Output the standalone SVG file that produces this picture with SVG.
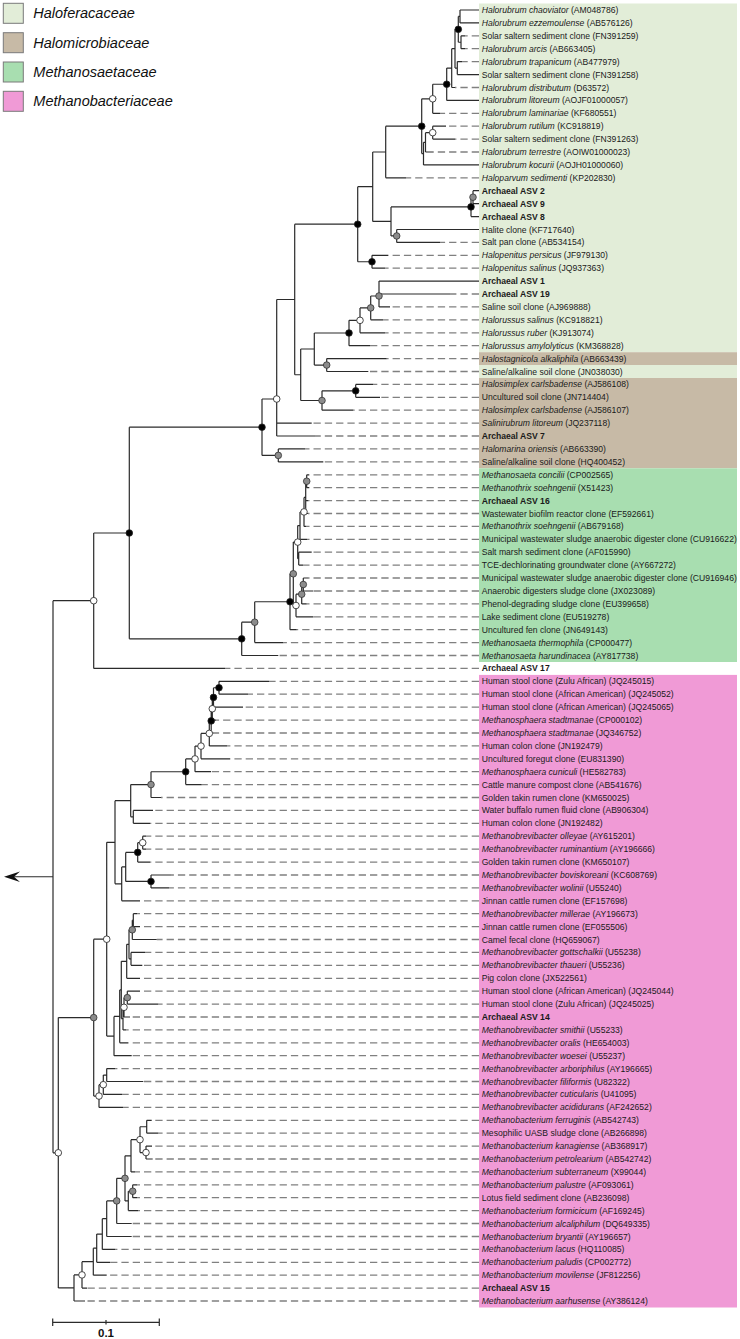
<svg xmlns="http://www.w3.org/2000/svg" width="740" height="1339" viewBox="0 0 740 1339">
<style>
.lb{font-family:"Liberation Sans",Arial,sans-serif;font-size:8.6px;fill:#1a1a1a}
.lg{font-family:"Liberation Sans",Arial,sans-serif;font-size:14.5px;font-style:italic;fill:#111}
.i{font-style:italic}
.b{font-weight:bold}
.br{fill:none;stroke:#2b2b2b;stroke-width:1.2}
.ds{fill:none;stroke:#808080;stroke-width:1.3;stroke-dasharray:7.3 4}
.cb{fill:#000;stroke:#222;stroke-width:0.8}
.cg{fill:#8c8c8c;stroke:#333;stroke-width:0.8}
.co{fill:#fff;stroke:#333;stroke-width:0.9}
.f1{fill:#e2edd8}
.f2{fill:#c7baa6}
.f3{fill:#a8deb0}
.f4{fill:#f09ad6}
</style>
<rect width="740" height="1339" fill="#fff"/>
<g id="bands">
<rect class="f1" x="479" y="3.5" width="258" height="348.7"/>
<rect class="f2" x="479" y="352.2" width="258" height="12.8"/>
<rect class="f1" x="479" y="365" width="258" height="13"/>
<rect class="f2" x="479" y="378" width="258" height="90.3"/>
<rect class="f3" x="479" y="468.3" width="258" height="193.7"/>
<rect class="f4" x="479" y="674.9" width="258" height="632.6"/>
</g>
<g id="legend">
<g id="leg1"><rect class="f1" x="3.3" y="3.3" width="20" height="20" stroke="#7a7a7a" stroke-width="1"/><text class="lg" x="33.3" y="18.3">Haloferacaceae</text></g>
<g id="leg2"><rect class="f2" x="3.3" y="32.7" width="20" height="20" stroke="#7a7a7a" stroke-width="1"/><text class="lg" x="33.3" y="47.7">Halomicrobiaceae</text></g>
<g id="leg3"><rect class="f3" x="3.3" y="62" width="20" height="20" stroke="#7a7a7a" stroke-width="1"/><text class="lg" x="33.3" y="77">Methanosaetaceae</text></g>
<g id="leg4"><rect class="f4" x="3.3" y="91.3" width="20" height="20" stroke="#7a7a7a" stroke-width="1"/><text class="lg" x="33.3" y="106.3">Methanobacteriaceae</text></g>
</g>
<g id="connectors">
<path class="ds" d="M479 35.8H465M479 48.7H465M479 61.6H462M479 87.5H455M479 113.3H440M479 126.2H446M479 139.1H455M479 152H433M479 177.8H406M479 242.4H440M479 255.3H388M479 268.2H385M479 294H450M479 306.9H390M479 319.8H383M479 332.8H385M479 345.7H370M479 358.6H386.7M479 371.5H368.3M479 384.4H373.3M479 397.3H380M479 410.2H353.3M479 423.1H311.7M479 436H315M479 448.9H305M479 461.9H323.3M479 474.8H309M479 487.7H309M479 500.6H308M479 513.5H308M479 526.4H306M479 539.3H307M479 552.2H311.7M479 565.1H303M479 578H308M479 591H313M479 603.9H306.7M479 616.8H313.3M479 629.7H296.7M479 642.6H283.3M479 655.5H278.3M479 668.4H225M479 681.3H269M479 694.2H248M479 707.1H243M479 720.1H216M479 733H214M479 745.9H227M479 758.8H230M479 771.7H211M479 784.6H201.7M479 797.5H161M479 810.4H153M479 823.3H150M479 836.2H146M479 849.2H146M479 862.1H150M479 875H171M479 887.9H169M479 900.8H140M479 913.7H137M479 926.6H140M479 939.5H156.7M479 952.4H145M479 965.3H142.3M479 978.3H140M479 991.2H140M479 1004.1H158.3M479 1017H130M479 1029.9H126M479 1042.8H128M479 1055.7H131.7M479 1068.6H115M479 1081.5H143.3M479 1094.4H122M479 1107.4H123M479 1120.3H151.7M479 1133.2H158.3M479 1146.1H152M479 1159H152.7M479 1171.9H135M479 1184.8H137M479 1197.7H137M479 1210.6H138M479 1223.5H131.7M479 1236.5H131.7M479 1249.4H115M479 1262.3H110M479 1275.2H106.7M479 1288.1H87M479 1301H85"/>
<path class="br" d="M460 10V22.9M460 10H479M460 22.9H479M461 35.8V48.7M461 35.8H465M461 48.7H465M458.3 16.45V42.25M458.3 16.45H460M458.3 42.25H461M457.3 61.6V74.6M457.3 61.6H462M457.3 74.6H479M455 29.35V68.1M455 29.35H458.3M455 68.1H457.3M451.7 48.7V87.5M451.7 48.7H455M451.7 87.5H455M446.7 68.1V100.4M446.7 68.1H451.7M446.7 100.4H479M432.7 84.25V113.3M432.7 84.25H446.7M432.7 113.3H440M432.7 126.2V139.1M432.7 126.2H446M432.7 139.1H455M425.5 132.65V152M425.5 132.65H432.7M425.5 152H433M423.5 142.3V164.9M423.5 142.3H425.5M423.5 164.9H479M421.7 98.8V153.6M421.7 98.8H432.7M421.7 153.6H423.5M385.7 126.2V177.8M385.7 126.2H421.7M385.7 177.8H406M473 190.7V203.7M473 190.7H479M473 203.7H479M471 197.2V216.6M471 197.2H473M471 216.6H479M396.7 229.5V242.4M396.7 229.5H479M396.7 242.4H440M391 206.9V235.95M391 206.9H471M391 235.95H396.7M372.7 152V221.4M372.7 152H385.7M372.7 221.4H391M372 255.3V268.2M372 255.3H388M372 268.2H385M357.7 186.7V261.75M357.7 186.7H372.7M357.7 261.75H372M379 281.1V306.9M379 281.1H479M379 294H450M379 306.9H390M370.7 296V319.8M370.7 296H379M370.7 319.8H383M360 307.9V332.8M360 307.9H370.7M360 332.8H385M349 320.35V345.7M349 320.35H360M349 345.7H370M326.7 358.6V371.5M326.7 358.6H386.7M326.7 371.5H368.3M314.3 333V365.05M314.3 333H349M314.3 365.05H326.7M355.7 384.4V397.3M355.7 384.4H373.3M355.7 397.3H380M322 390.85V410.2M322 390.85H355.7M322 410.2H353.3M300.7 349V400.5M300.7 349H314.3M300.7 400.5H322M294.7 224.2V374.75M294.7 224.2H357.7M294.7 374.75H300.7M276.7 299.5V436M276.7 299.5H294.7M276.7 423.1H311.7M276.7 436H315M278.3 448.9V461.9M278.3 448.9H305M278.3 461.9H323.3M262 399V455.4M262 399H276.7M262 455.4H278.3"/>
<path class="br" d="M306.7 474.8V487.7M306.7 474.8H309M306.7 487.7H309M305.7 481.25V513.5M305.7 481.25H306.7M305.7 500.6H308M305.7 513.5H308M304 497.4V526.4M304 497.4H305.7M304 526.4H306M300 511.9V539.3M300 511.9H304M300 539.3H307M298.7 552.2V565.1M298.7 552.2H311.7M298.7 565.1H303M297.7 525.6V558.65M297.7 525.6H300M297.7 558.65H298.7M303.3 578V591M303.3 578H308M303.3 591H313M301.7 584.5V603.9M301.7 584.5H303.3M301.7 603.9H306.7M296 594.2V616.8M296 594.2H301.7M296 616.8H313.3M293.3 542.1V605.5M293.3 542.1H297.7M293.3 605.5H296M290 573.8V629.7M290 573.8H293.3M290 629.7H296.7M254.7 601.75V642.6M254.7 601.75H290M254.7 642.6H283.3M241.7 622.2V655.5M241.7 622.2H254.7M241.7 655.5H278.3M129.3 427.2V638.85M129.3 427.2H262M129.3 638.85H241.7M93.7 533V668.4M93.7 533H129.3M93.7 668.4H225M53 600.7V1152.8M53 600.7H93.7M53 1152.8H58.3"/>
<path class="br" d="M219 681.3V694.2M219 681.3H269M219 694.2H248M213.5 687.75V707.1M213.5 687.75H219M213.5 707.1H243M212.3 697.4V720.1M212.3 697.4H213.5M212.3 720.1H216M211.2 708.75V733M211.2 708.75H212.3M211.2 733H214M209.3 720.9V745.9M209.3 720.9H211.2M209.3 745.9H227M201 733.4V758.8M201 733.4H209.3M201 758.8H230M195 746.1V771.7M195 746.1H201M195 771.7H211M185.7 758.9V784.6M185.7 758.9H195M185.7 784.6H201.7M151 771.75V797.5M151 771.75H185.7M151 797.5H161M133.3 810.4V823.3M133.3 810.4H153M133.3 823.3H150M130.7 784.6V816.85M130.7 784.6H151M130.7 816.85H133.3M142.7 836.2V849.2M142.7 836.2H146M142.7 849.2H146M137.7 842.7V862.1M137.7 842.7H142.7M137.7 862.1H150M151 875V887.9M151 875H171M151 887.9H169M125.7 852.4V881.45M125.7 852.4H137.7M125.7 881.45H151M121.7 866.9V900.8M121.7 866.9H125.7M121.7 900.8H140M115 800.7V883.85M115 800.7H130.7M115 883.85H121.7M133.3 913.7V926.6M133.3 913.7H137M133.3 926.6H140M132.3 920.15V939.5M132.3 920.15H133.3M132.3 939.5H156.7M131 952.4V965.3M131 952.4H145M131 965.3H142.3M129 929.8V958.85M129 929.8H132.3M129 958.85H131M126.7 944.3V978.3M126.7 944.3H129M126.7 978.3H140M127.3 991.2V1004.1M127.3 991.2H140M127.3 1004.1H158.3M124 997.65V1017M124 997.65H127.3M124 1017H130M123 1007.3V1029.9M123 1007.3H124M123 1029.9H126M121.3 961.3V1018.6M121.3 961.3H126.7M121.3 1018.6H123M119.7 989.95V1042.8M119.7 989.95H121.3M119.7 1042.8H128M114 1016.4V1055.7M114 1016.4H119.7M114 1055.7H131.7M106.7 842.3V1036.05M106.7 842.3H115M106.7 1036.05H114M106.7 1068.6V1081.5M106.7 1068.6H115M106.7 1081.5H143.3M103.3 1075.05V1094.4M103.3 1075.05H106.7M103.3 1094.4H122M99 1084.7V1107.4M99 1084.7H103.3M99 1107.4H123M93.7 939.2V1096.05M93.7 939.2H106.7M93.7 1096.05H99M146.7 1120.3V1133.2M146.7 1120.3H151.7M146.7 1133.2H158.3M146 1146.1V1159M146 1146.1H152M146 1159H152.7M140 1126.75V1152.55M140 1126.75H146.7M140 1152.55H146M131 1139.65V1171.9M131 1139.65H140M131 1171.9H135M132.7 1184.8V1197.7M132.7 1184.8H137M132.7 1197.7H137M128.3 1191.25V1210.6M128.3 1191.25H132.7M128.3 1210.6H138M125 1155.8V1200.9M125 1155.8H131M125 1200.9H128.3M116.7 1178.35V1223.5M116.7 1178.35H125M116.7 1223.5H131.7M106.7 1200.9V1236.5M106.7 1200.9H116.7M106.7 1236.5H131.7M102.3 1218.7V1249.4M102.3 1218.7H106.7M102.3 1249.4H115M96.7 1234.05V1262.3M96.7 1234.05H102.3M96.7 1262.3H110M93.3 1248.2V1275.2M93.3 1248.2H96.7M93.3 1275.2H106.7M82 1261.7V1288.1M82 1261.7H93.3M82 1288.1H87M74 1274.9V1301M74 1274.9H82M74 1301H85M58.3 1017.6V1287.95M58.3 1017.6H93.7M58.3 1287.95H74"/>
<path class="br" d="M53 876.75H14"/>
<polygon points="4,876.75 20,871.5 14,876.75 20,882" fill="#111"/>
</g>
<g id="support">
<circle class="cb" cx="458.3" cy="29.35" r="3.3"/><circle class="cb" cx="446.7" cy="84.25" r="3.3"/><circle class="cb" cx="421.7" cy="126.2" r="3.3"/><circle class="cb" cx="471" cy="206.9" r="3.3"/><circle class="cb" cx="372" cy="261.75" r="3.3"/><circle class="cb" cx="357.7" cy="224.2" r="3.3"/><circle class="cb" cx="349" cy="333" r="3.3"/><circle class="cb" cx="355.7" cy="390.85" r="3.3"/><circle class="cb" cx="262" cy="427.2" r="3.3"/><circle class="cb" cx="290" cy="601.75" r="3.3"/><circle class="cb" cx="241.7" cy="638.85" r="3.3"/><circle class="cb" cx="129.3" cy="533" r="3.3"/><circle class="cb" cx="219" cy="687.75" r="3.3"/><circle class="cb" cx="213.5" cy="697.4" r="3.3"/><circle class="cb" cx="211.2" cy="720.9" r="3.3"/><circle class="cb" cx="185.7" cy="771.75" r="3.3"/><circle class="cb" cx="137.7" cy="852.4" r="3.3"/><circle class="cb" cx="151" cy="881.45" r="3.3"/>
<circle class="cg" cx="473" cy="197.2" r="3.3"/><circle class="cg" cx="396.7" cy="235.95" r="3.3"/><circle class="cg" cx="379" cy="296" r="3.3"/><circle class="cg" cx="370.7" cy="307.9" r="3.3"/><circle class="cg" cx="326.7" cy="365.05" r="3.3"/><circle class="cg" cx="322" cy="400.5" r="3.3"/><circle class="cg" cx="278.3" cy="455.4" r="3.3"/><circle class="cg" cx="306.7" cy="481.25" r="3.3"/><circle class="cg" cx="303.3" cy="584.5" r="3.3"/><circle class="cg" cx="301.7" cy="594.2" r="3.3"/><circle class="cg" cx="293.3" cy="573.8" r="3.3"/><circle class="cg" cx="254.7" cy="622.2" r="3.3"/><circle class="cg" cx="151" cy="784.6" r="3.3"/><circle class="cg" cx="132.3" cy="929.8" r="3.3"/><circle class="cg" cx="127.3" cy="997.65" r="3.3"/><circle class="cg" cx="93.7" cy="1017.6" r="3.3"/><circle class="cg" cx="132.7" cy="1191.25" r="3.3"/><circle class="cg" cx="125" cy="1178.35" r="3.3"/><circle class="cg" cx="116.7" cy="1200.9" r="3.3"/>
<circle class="co" cx="432.7" cy="98.8" r="3.3"/><circle class="co" cx="432.7" cy="132.65" r="3.3"/><circle class="co" cx="360" cy="320.35" r="3.3"/><circle class="co" cx="276.7" cy="399" r="3.3"/><circle class="co" cx="304" cy="511.9" r="3.3"/><circle class="co" cx="297.7" cy="542.1" r="3.3"/><circle class="co" cx="296" cy="605.5" r="3.3"/><circle class="co" cx="93.7" cy="600.7" r="3.3"/><circle class="co" cx="212.3" cy="708.75" r="3.3"/><circle class="co" cx="209.3" cy="733.4" r="3.3"/><circle class="co" cx="201" cy="746.1" r="3.3"/><circle class="co" cx="195" cy="758.9" r="3.3"/><circle class="co" cx="142.7" cy="842.7" r="3.3"/><circle class="co" cx="106.7" cy="939.2" r="3.3"/><circle class="co" cx="124" cy="1007.3" r="3.3"/><circle class="co" cx="103.3" cy="1084.7" r="3.3"/><circle class="co" cx="99" cy="1096.05" r="3.3"/><circle class="co" cx="146" cy="1152.55" r="3.3"/><circle class="co" cx="140" cy="1139.65" r="3.3"/><circle class="co" cx="82" cy="1274.9" r="3.3"/><circle class="co" cx="58.3" cy="1152.8" r="3.3"/>
</g>
<g id="labels">
<g id="n1"><text class="lb" x="481.7" y="13"><tspan class="i">Halorubrum chaoviator</tspan> (AM048786)</text></g>
<g id="n2"><text class="lb" x="481.7" y="25.9"><tspan class="i">Halorubrum ezzemoulense</tspan> (AB576126)</text></g>
<g id="n3"><text class="lb" x="481.7" y="38.8">Solar saltern sediment clone (FN391259)</text></g>
<g id="n4"><text class="lb" x="481.7" y="51.7"><tspan class="i">Halorubrum arcis</tspan> (AB663405)</text></g>
<g id="n5"><text class="lb" x="481.7" y="64.6"><tspan class="i">Halorubrum trapanicum</tspan> (AB477979)</text></g>
<g id="n6"><text class="lb" x="481.7" y="77.6">Solar saltern sediment clone (FN391258)</text></g>
<g id="n7"><text class="lb" x="481.7" y="90.5"><tspan class="i">Halorubrum distributum</tspan> (D63572)</text></g>
<g id="n8"><text class="lb" x="481.7" y="103.4"><tspan class="i">Halorubrum litoreum</tspan> (AOJF01000057)</text></g>
<g id="n9"><text class="lb" x="481.7" y="116.3"><tspan class="i">Halorubrum laminariae</tspan> (KF680551)</text></g>
<g id="n10"><text class="lb" x="481.7" y="129.2"><tspan class="i">Halorubrum rutilum</tspan> (KC918819)</text></g>
<g id="n11"><text class="lb" x="481.7" y="142.1">Solar saltern sediment clone (FN391263)</text></g>
<g id="n12"><text class="lb" x="481.7" y="155"><tspan class="i">Halorubrum terrestre</tspan> (AOIW01000023)</text></g>
<g id="n13"><text class="lb" x="481.7" y="167.9"><tspan class="i">Halorubrum kocurii</tspan> (AOJH01000060)</text></g>
<g id="n14"><text class="lb" x="481.7" y="180.8"><tspan class="i">Haloparvum sedimenti</tspan> (KP202830)</text></g>
<g id="n15"><text class="lb b" x="481.7" y="193.7">Archaeal ASV 2</text></g>
<g id="n16"><text class="lb b" x="481.7" y="206.7">Archaeal ASV 9</text></g>
<g id="n17"><text class="lb b" x="481.7" y="219.6">Archaeal ASV 8</text></g>
<g id="n18"><text class="lb" x="481.7" y="232.5">Halite clone (KF717640)</text></g>
<g id="n19"><text class="lb" x="481.7" y="245.4">Salt pan clone (AB534154)</text></g>
<g id="n20"><text class="lb" x="481.7" y="258.3"><tspan class="i">Halopenitus persicus</tspan> (JF979130)</text></g>
<g id="n21"><text class="lb" x="481.7" y="271.2"><tspan class="i">Halopenitus salinus</tspan> (JQ937363)</text></g>
<g id="n22"><text class="lb b" x="481.7" y="284.1">Archaeal ASV 1</text></g>
<g id="n23"><text class="lb b" x="481.7" y="297">Archaeal ASV 19</text></g>
<g id="n24"><text class="lb" x="481.7" y="309.9">Saline soil clone (AJ969888)</text></g>
<g id="n25"><text class="lb" x="481.7" y="322.8"><tspan class="i">Halorussus salinus</tspan> (KC918821)</text></g>
<g id="n26"><text class="lb" x="481.7" y="335.8"><tspan class="i">Halorussus ruber</tspan> (KJ913074)</text></g>
<g id="n27"><text class="lb" x="481.7" y="348.7"><tspan class="i">Halorussus amylolyticus</tspan> (KM368828)</text></g>
<g id="n28"><text class="lb" x="481.7" y="361.6"><tspan class="i">Halostagnicola alkaliphila</tspan> (AB663439)</text></g>
<g id="n29"><text class="lb" x="481.7" y="374.5">Saline/alkaline soil clone (JN038030)</text></g>
<g id="n30"><text class="lb" x="481.7" y="387.4"><tspan class="i">Halosimplex carlsbadense</tspan> (AJ586108)</text></g>
<g id="n31"><text class="lb" x="481.7" y="400.3">Uncultured soil clone (JN714404)</text></g>
<g id="n32"><text class="lb" x="481.7" y="413.2"><tspan class="i">Halosimplex carlsbadense</tspan> (AJ586107)</text></g>
<g id="n33"><text class="lb" x="481.7" y="426.1"><tspan class="i">Salinirubrum litoreum</tspan> (JQ237118)</text></g>
<g id="n34"><text class="lb b" x="481.7" y="439">Archaeal ASV 7</text></g>
<g id="n35"><text class="lb" x="481.7" y="451.9"><tspan class="i">Halomarina oriensis</tspan> (AB663390)</text></g>
<g id="n36"><text class="lb" x="481.7" y="464.9">Saline/alkaline soil clone (HQ400452)</text></g>
<g id="n37"><text class="lb" x="481.7" y="477.8"><tspan class="i">Methanosaeta concilii</tspan> (CP002565)</text></g>
<g id="n38"><text class="lb" x="481.7" y="490.7"><tspan class="i">Methanothrix soehngenii</tspan> (X51423)</text></g>
<g id="n39"><text class="lb b" x="481.7" y="503.6">Archaeal ASV 16</text></g>
<g id="n40"><text class="lb" x="481.7" y="516.5">Wastewater biofilm reactor clone (EF592661)</text></g>
<g id="n41"><text class="lb" x="481.7" y="529.4"><tspan class="i">Methanothrix soehngenii</tspan> (AB679168)</text></g>
<g id="n42"><text class="lb" x="481.7" y="542.3">Municipal wastewater sludge anaerobic digester clone (CU916622)</text></g>
<g id="n43"><text class="lb" x="481.7" y="555.2">Salt marsh sediment clone (AF015990)</text></g>
<g id="n44"><text class="lb" x="481.7" y="568.1">TCE-dechlorinating groundwater clone (AY667272)</text></g>
<g id="n45"><text class="lb" x="481.7" y="581">Municipal wastewater sludge anaerobic digester clone (CU916946)</text></g>
<g id="n46"><text class="lb" x="481.7" y="594">Anaerobic digesters sludge clone (JX023089)</text></g>
<g id="n47"><text class="lb" x="481.7" y="606.9">Phenol-degrading sludge clone (EU399658)</text></g>
<g id="n48"><text class="lb" x="481.7" y="619.8">Lake sediment clone (EU519278)</text></g>
<g id="n49"><text class="lb" x="481.7" y="632.7">Uncultured fen clone (JN649143)</text></g>
<g id="n50"><text class="lb" x="481.7" y="645.6"><tspan class="i">Methanosaeta thermophila</tspan> (CP000477)</text></g>
<g id="n51"><text class="lb" x="481.7" y="658.5"><tspan class="i">Methanosaeta harundinacea</tspan> (AY817738)</text></g>
<g id="n52"><text class="lb b" x="481.7" y="671.4">Archaeal ASV 17</text></g>
<g id="n53"><text class="lb" x="481.7" y="684.3">Human stool clone (Zulu African) (JQ245015)</text></g>
<g id="n54"><text class="lb" x="481.7" y="697.2">Human stool clone (African American) (JQ245052)</text></g>
<g id="n55"><text class="lb" x="481.7" y="710.1">Human stool clone (African American) (JQ245065)</text></g>
<g id="n56"><text class="lb" x="481.7" y="723.1"><tspan class="i">Methanosphaera stadtmanae</tspan> (CP000102)</text></g>
<g id="n57"><text class="lb" x="481.7" y="736"><tspan class="i">Methanosphaera stadtmanae</tspan> (JQ346752)</text></g>
<g id="n58"><text class="lb" x="481.7" y="748.9">Human colon clone (JN192479)</text></g>
<g id="n59"><text class="lb" x="481.7" y="761.8">Uncultured foregut clone (EU831390)</text></g>
<g id="n60"><text class="lb" x="481.7" y="774.7"><tspan class="i">Methanosphaera cuniculi</tspan> (HE582783)</text></g>
<g id="n61"><text class="lb" x="481.7" y="787.6">Cattle manure compost clone (AB541676)</text></g>
<g id="n62"><text class="lb" x="481.7" y="800.5">Golden takin rumen clone (KM650025)</text></g>
<g id="n63"><text class="lb" x="481.7" y="813.4">Water buffalo rumen fluid clone (AB906304)</text></g>
<g id="n64"><text class="lb" x="481.7" y="826.3">Human colon clone (JN192482)</text></g>
<g id="n65"><text class="lb" x="481.7" y="839.2"><tspan class="i">Methanobrevibacter olleyae</tspan> (AY615201)</text></g>
<g id="n66"><text class="lb" x="481.7" y="852.2"><tspan class="i">Methanobrevibacter ruminantium</tspan> (AY196666)</text></g>
<g id="n67"><text class="lb" x="481.7" y="865.1">Golden takin rumen clone (KM650107)</text></g>
<g id="n68"><text class="lb" x="481.7" y="878"><tspan class="i">Methanobrevibacter boviskoreani</tspan> (KC608769)</text></g>
<g id="n69"><text class="lb" x="481.7" y="890.9"><tspan class="i">Methanobrevibacter wolinii</tspan> (U55240)</text></g>
<g id="n70"><text class="lb" x="481.7" y="903.8">Jinnan cattle rumen clone (EF157698)</text></g>
<g id="n71"><text class="lb" x="481.7" y="916.7"><tspan class="i">Methanobrevibacter millerae</tspan> (AY196673)</text></g>
<g id="n72"><text class="lb" x="481.7" y="929.6">Jinnan cattle rumen clone (EF055506)</text></g>
<g id="n73"><text class="lb" x="481.7" y="942.5">Camel fecal clone (HQ659067)</text></g>
<g id="n74"><text class="lb" x="481.7" y="955.4"><tspan class="i">Methanobrevibacter gottschalkii</tspan> (U55238)</text></g>
<g id="n75"><text class="lb" x="481.7" y="968.3"><tspan class="i">Methanobrevibacter thaueri</tspan> (U55236)</text></g>
<g id="n76"><text class="lb" x="481.7" y="981.3">Pig colon clone (JX522561)</text></g>
<g id="n77"><text class="lb" x="481.7" y="994.2">Human stool clone (African American) (JQ245044)</text></g>
<g id="n78"><text class="lb" x="481.7" y="1007.1">Human stool clone (Zulu African) (JQ245025)</text></g>
<g id="n79"><text class="lb b" x="481.7" y="1020">Archaeal ASV 14</text></g>
<g id="n80"><text class="lb" x="481.7" y="1032.9"><tspan class="i">Methanobrevibacter smithii</tspan> (U55233)</text></g>
<g id="n81"><text class="lb" x="481.7" y="1045.8"><tspan class="i">Methanobrevibacter oralis</tspan> (HE654003)</text></g>
<g id="n82"><text class="lb" x="481.7" y="1058.7"><tspan class="i">Methanobrevibacter woesei</tspan> (U55237)</text></g>
<g id="n83"><text class="lb" x="481.7" y="1071.6"><tspan class="i">Methanobrevibacter arboriphilus</tspan> (AY196665)</text></g>
<g id="n84"><text class="lb" x="481.7" y="1084.5"><tspan class="i">Methanobrevibacter filiformis</tspan> (U82322)</text></g>
<g id="n85"><text class="lb" x="481.7" y="1097.4"><tspan class="i">Methanobrevibacter cuticularis</tspan> (U41095)</text></g>
<g id="n86"><text class="lb" x="481.7" y="1110.4"><tspan class="i">Methanobrevibacter acididurans</tspan> (AF242652)</text></g>
<g id="n87"><text class="lb" x="481.7" y="1123.3"><tspan class="i">Methanobacterium ferruginis</tspan> (AB542743)</text></g>
<g id="n88"><text class="lb" x="481.7" y="1136.2">Mesophilic UASB sludge clone (AB266898)</text></g>
<g id="n89"><text class="lb" x="481.7" y="1149.1"><tspan class="i">Methanobacterium kanagiense</tspan> (AB368917)</text></g>
<g id="n90"><text class="lb" x="481.7" y="1162"><tspan class="i">Methanobacterium petrolearium</tspan> (AB542742)</text></g>
<g id="n91"><text class="lb" x="481.7" y="1174.9"><tspan class="i">Methanobacterium subterraneum</tspan> (X99044)</text></g>
<g id="n92"><text class="lb" x="481.7" y="1187.8"><tspan class="i">Methanobacterium palustre</tspan> (AF093061)</text></g>
<g id="n93"><text class="lb" x="481.7" y="1200.7">Lotus field sediment clone (AB236098)</text></g>
<g id="n94"><text class="lb" x="481.7" y="1213.6"><tspan class="i">Methanobacterium formicicum</tspan> (AF169245)</text></g>
<g id="n95"><text class="lb" x="481.7" y="1226.5"><tspan class="i">Methanobacterium alcaliphilum</tspan> (DQ649335)</text></g>
<g id="n96"><text class="lb" x="481.7" y="1239.5"><tspan class="i">Methanobacterium bryantii</tspan> (AY196657)</text></g>
<g id="n97"><text class="lb" x="481.7" y="1252.4"><tspan class="i">Methanobacterium lacus</tspan> (HQ110085)</text></g>
<g id="n98"><text class="lb" x="481.7" y="1265.3"><tspan class="i">Methanobacterium paludis</tspan> (CP002772)</text></g>
<g id="n99"><text class="lb" x="481.7" y="1278.2"><tspan class="i">Methanobacterium movilense</tspan> (JF812256)</text></g>
<g id="n100"><text class="lb b" x="481.7" y="1291.1">Archaeal ASV 15</text></g>
<g id="n101"><text class="lb" x="481.7" y="1304"><tspan class="i">Methanobacterium aarhusense</tspan> (AY386124)</text></g>
</g>
<g id="scalebar">
<path class="br" d="M52.7 1322.3H159.3M52.7 1318.5V1326M159.3 1318.5V1326M106 1320V1324.5"/>
<text x="106" y="1336.7" text-anchor="middle" font-family="'Liberation Sans',Arial,sans-serif" font-size="11.5" font-weight="bold" fill="#111">0.1</text>
</g>
</svg>
